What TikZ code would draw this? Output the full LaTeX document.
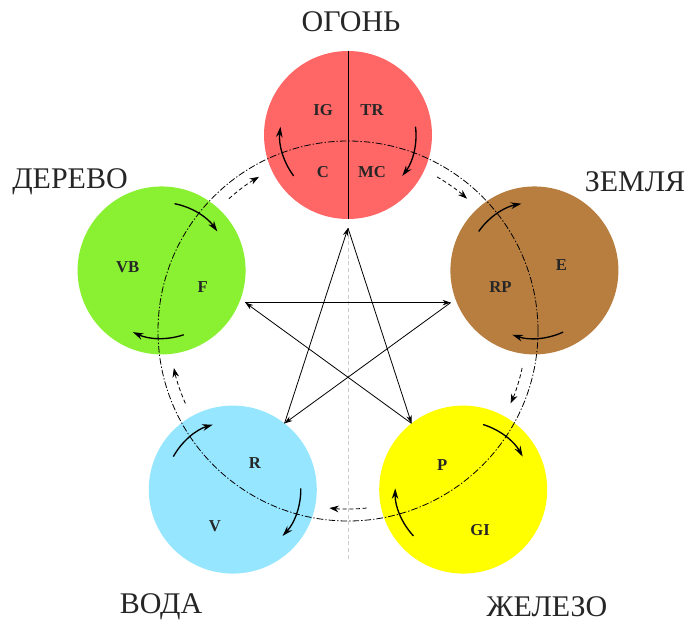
\documentclass[tikz,border=0pt]{standalone}
\usepackage{fontspec}
\setmainfont{Liberation Serif}
\usepackage{tikz}
\usetikzlibrary{calc,arrows.meta}
\definecolor{firered}{RGB}{255,102,102}
\definecolor{earthbrown}{RGB}{184,126,64}
\definecolor{metalyellow}{RGB}{255,255,0}
\definecolor{waterblue}{RGB}{150,230,255}
\definecolor{woodgreen}{RGB}{138,240,50}
\tikzset{elem/.style={circle,minimum size=126pt,inner sep=0pt,draw=none},
lbl/.style={font=\fontsize{12.5}{14}\selectfont\bfseries,text=black!85},
elname/.style={font=\fontsize{22.5}{26}\selectfont,text=black!85}}
\tikzstyle{flow}      = [line width=1pt,-{Stealth[length=8pt,width=5pt]}]
\tikzstyle{cycflow}   = [line width=0.6pt,densely dashed,-{Stealth[length=7pt,width=5pt]}]
\tikzstyle{starline}  = [line width=0.6pt,-{Stealth[length=6pt,width=4pt]}]
\tikzstyle{ring}      = [line width=0.6pt,dash pattern=on 5pt off 1.5pt on 1pt off 1.5pt]

\begin{document}
\begin{tikzpicture}[x=0.75pt,y=0.75pt]
		\useasboundingbox (-348,-291) rectangle (340,331);
		\coordinate (o) at (0,0);

		% the five elements
		\node[elem,fill=firered]     (fire)  at (90:196)   {};
		\node[elem,fill=earthbrown]  (earth) at (18:196)   {};
		\node[elem,fill=metalyellow] (metal) at (-54:196)  {};
		\node[elem,fill=waterblue]   (water) at (-126:196) {};
		\node[elem,fill=woodgreen]   (wood)  at (162:196)  {};

		\draw[thin] (fire.north) -- (fire.south);

		\node[lbl] (ig) at ($(fire)+(-25,25)$)  {IG};
		\node[lbl] (tr) at ($(fire)+(24,25)$)   {TR};
		\node[lbl] (c)  at ($(fire)+(-25,-37)$) {C};
		\node[lbl] (mc) at ($(fire)+(24,-37)$)  {MC};
		\node[lbl] (rp) at ($(earth)+(-34,-17)$) {RP};
		\node[lbl] (e)  at ($(earth)+(27,5)$)    {E};
		\node[lbl] (p)  at ($(metal)+(-21,25)$)  {P};
		\node[lbl] (gi) at ($(metal)+(17,-40)$)  {GI};
		\node[lbl] (r)  at ($(water)+(22,27)$)   {R};
		\node[lbl] (v)  at ($(water)+(-18,-37)$) {V};
		\node[lbl] (vb) at ($(wood)+(-34,3)$)    {VB};
		\node[lbl] (f)  at ($(wood)+(41,-17)$)   {F};

		% generating cycle
		\draw[ring] (o) circle[radius=142.5pt];
		\foreach \n/\a in {fire/90,earth/18,metal/-54,water/-126,wood/162}{
			\draw[flow] ($(\n)+(\a+127:68)$) arc[start angle=\a+127,end angle=\a+83,radius=51pt];
			\draw[flow] ($(\n)+(\a-83:68)$) arc[start angle=\a-83,end angle=\a-127,radius=51pt];
		}
		\draw[cycflow] (60:178) arc[start angle=60,end angle=48,radius=133.5pt];
		\draw[cycflow] (-12:178) arc[start angle=-12,end angle=-24,radius=133.5pt];
		\draw[cycflow] (-84:178) arc[start angle=-84,end angle=-96,radius=133.5pt];
		\draw[cycflow] (-156:178) arc[start angle=-156,end angle=-168,radius=133.5pt];
		\draw[cycflow] (132:178) arc[start angle=132,end angle=120,radius=133.5pt];

		% controlling cycle
		\coordinate (sF)  at (0,103);
		\coordinate (sE)  at (102.7,28.4);
		\coordinate (sM)  at (63.5,-92.4);
		\coordinate (sW)  at (-63.5,-92.4);
		\coordinate (sWd) at (-102.7,28.4);
		\coordinate (bot) at (0,-229);
		\draw[gray!40,densely dashed,very thin] (sF) -- (bot);
		\draw[starline] (sWd) -- (sE);
		\draw[starline] (sE) -- (sW);
		\draw[starline] (sW) -- (sF);
		\draw[starline] (sF) -- (sM);
		\draw[starline] (sM) -- (sWd);

		\node[elname] (nfire)  at (3,309)     {ОГОНЬ};
		\node[elname] (nwood)  at (-278,149)  {ДЕРЕВО};
		\node[elname] (nearth) at (287,149)   {ЗЕМЛЯ};
		\node[elname] (nwater) at (-187,-276) {ВОДА};
		\node[elname] (nmetal) at (199,-276)  {ЖЕЛЕЗО};
	\end{tikzpicture}
\end{document}
